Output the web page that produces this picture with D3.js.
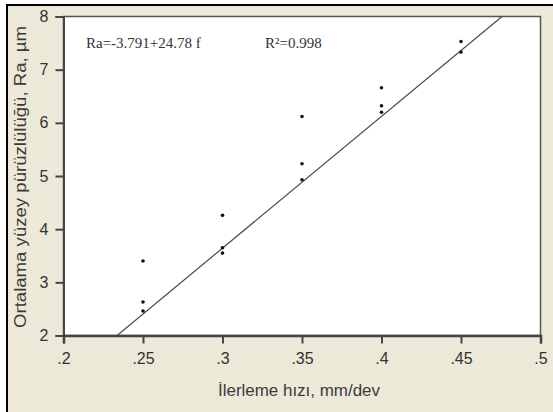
<!DOCTYPE html>
<html><head><meta charset="utf-8">
<script src="https://cdn.jsdelivr.net/npm/d3@7"></script>
<style>html,body{margin:0;padding:0;background:#fff;}svg{display:block;}</style>
</head><body>
<script>
const feed = [0.25,0.25,0.25,0.30,0.30,0.30,0.35,0.35,0.35,0.40,0.40,0.40,0.45,0.45];
const ra   = [3.40,2.63,2.46,4.26,3.65,3.55,6.12,5.23,4.93,6.66,6.32,6.20,7.53,7.33];
const xTicks = [0.2,0.25,0.3,0.35,0.4,0.45,0.5];
const xTickLabels = [".2",".25",".3",".35",".4",".45",".5"];
const yTicks = [2,3,4,5,6,7,8];
const intercept = -3.791, slope = 24.78;
const eqText = "Ra=-3.791+24.78 f";
const r2Text = "R²=0.998";
const xTitle = "İlerleme hızı, mm/dev";
const yTitle = "Ortalama yüzey pürüzlülüğü, Ra, µm";

const W = 553, H = 412;
const svg = d3.select("body").append("svg").attr("width", W).attr("height", H);
svg.append("rect").attr("width", W).attr("height", H).attr("fill", "#fff");
svg.append("rect").attr("x", 6).attr("y", 4).attr("width", W-6).attr("height", H-4).attr("fill", "#000");
svg.append("rect").attr("x", 8).attr("y", 6).attr("width", W-8).attr("height", H-6).attr("fill", "#ECE9D8");

const x = d3.scaleLinear().domain([0.2, 0.5]).range([63.5, 540.5]);
const y = d3.scaleLinear().domain([2, 8]).range([335.5, 16.5]);

// plot area
svg.append("rect").attr("x", x(0.2)).attr("y", y(8)).attr("width", x(0.5)-x(0.2)).attr("height", y(2)-y(8))
  .attr("fill", "#fff").attr("stroke", "#555").attr("stroke-width", 1.5);

svg.append("clipPath").attr("id", "c").append("rect")
  .attr("x", x(0.2)).attr("y", y(8)).attr("width", x(0.5)-x(0.2)).attr("height", y(2)-y(8));

// regression line
const fStart = (2 - intercept) / slope, fEnd = (8 - intercept) / slope;
svg.append("line").attr("clip-path", "url(#c)")
  .attr("x1", x(fStart)).attr("y1", y(intercept + slope*fStart))
  .attr("x2", x(fEnd)).attr("y2", y(intercept + slope*fEnd))
  .attr("stroke", "#4a4a4a").attr("stroke-width", 1.2);

// points
svg.append("g").selectAll("circle").data(feed.map((f,i)=>[f, ra[i]])).join("circle")
  .attr("cx", d=>x(d[0])).attr("cy", d=>y(d[1])).attr("r", 1.8).attr("fill", "#111");

// axes
const xAxis = d3.axisBottom(x).tickValues(xTicks).tickFormat((d,i)=>xTickLabels[i]).tickSize(8).tickPadding(9);
const gx = svg.append("g").attr("transform", `translate(0,${y(2)})`).call(xAxis);
gx.select(".domain").attr("stroke", "#444").attr("stroke-width", 2.5);
gx.selectAll(".tick line").attr("stroke", "#444").attr("stroke-width", 2);
gx.selectAll("text").attr("font-family", "Liberation Sans, Arial, sans-serif").attr("font-size", 16).attr("fill", "#333");

const yAxis = d3.axisLeft(y).tickValues(yTicks).tickFormat(d3.format("d")).tickSize(8).tickPadding(7);
const gy = svg.append("g").attr("transform", `translate(${x(0.2)},0)`).call(yAxis);
gy.select(".domain").attr("stroke", "#444").attr("stroke-width", 2);
gy.selectAll(".tick line").attr("stroke", "#444").attr("stroke-width", 2);
gy.selectAll("text").attr("font-family", "Liberation Sans, Arial, sans-serif").attr("font-size", 16).attr("fill", "#333");

// annotations
svg.append("text").attr("x", 86).attr("y", 48).text(eqText)
  .attr("font-family", "Liberation Serif, Times New Roman, serif").attr("font-size", 15).attr("fill", "#333");
svg.append("text").attr("x", 265).attr("y", 48).text(r2Text)
  .attr("font-family", "Liberation Serif, Times New Roman, serif").attr("font-size", 15).attr("fill", "#333");

// titles
svg.append("text").attr("x", 299).attr("y", 396).attr("text-anchor", "middle").text(xTitle)
  .attr("font-family", "Liberation Sans, Arial, sans-serif").attr("font-size", 16).attr("fill", "#3a3a3a")
  .attr("textLength", 162).attr("lengthAdjust", "spacingAndGlyphs");
svg.append("text").attr("transform", "translate(26,177) rotate(-90)").attr("text-anchor", "middle").text(yTitle)
  .attr("font-family", "Liberation Sans, Arial, sans-serif").attr("font-size", 16).attr("fill", "#3a3a3a")
  .attr("textLength", 302).attr("lengthAdjust", "spacingAndGlyphs");
</script>
</body></html>
